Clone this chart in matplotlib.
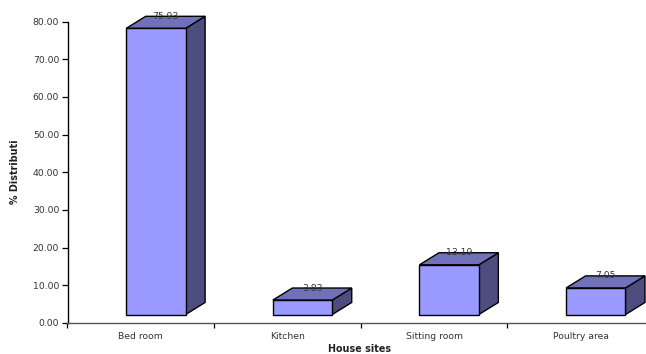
import matplotlib
matplotlib.use("Agg")
import matplotlib.pyplot as plt
from matplotlib.patches import Polygon

sites = ["Bed room", "Kitchen", "Sitting room", "Poultry area"]
percent = [75.93, 3.83, 13.19, 7.05]
y_ticks = [0, 10, 20, 30, 40, 50, 60, 70, 80]

W, H = 646, 354
plt.rcParams["font.family"] = ["DejaVu Sans"]

FRONT = "#9999ff"
TOP = "#7171b9"
SIDE = "#4d4d7f"
TEXT = "#333333"
FS = 6.7

fig = plt.figure(figsize=(W / 100, H / 100), dpi=100)
# axes run past the right edge, the last category is cut off
ax = fig.add_axes([67.5 / W, 1 - 323 / H, 586.5 / W, 301.5 / H])
ax.set_xlim(-0.5, 3.5)
ax.set_ylim(0, 80)

bar_w = 0.405
shift = 0.103    # front face sits right of the category centre
base = 2.25      # floor of the box above the axis
dx = 0.133       # depth of the box
dy = 3.2


def draw_box(x, val):
    x0 = x + shift - bar_w / 2
    x1 = x0 + bar_w
    y0 = base
    y1 = base + val
    ax.add_patch(Polygon([(x1, y0), (x1 + dx, y0 + dy), (x1 + dx, y1 + dy), (x1, y1)],
                         fc=SIDE, ec="black", lw=1.0, clip_on=False))
    ax.add_patch(Polygon([(x0, y1), (x1, y1), (x1 + dx, y1 + dy), (x0 + dx, y1 + dy)],
                         fc=TOP, ec="black", lw=1.0, clip_on=False))
    ax.bar(x + shift, val, bar_w, bottom=y0, color=FRONT, edgecolor="black", lw=1.0)
    ax.text(x + shift + dx / 2, y1 + dy, f"{val:.2f}", ha="center", va="center",
            fontsize=FS, color=TEXT)


for i, v in enumerate(percent):
    draw_box(i, v)

for s in ["top", "right"]:
    ax.spines[s].set_visible(False)
ax.spines["left"].set_linewidth(1.0)
ax.spines["bottom"].set_linewidth(1.0)
ax.spines["bottom"].set_color("#555555")

ax.set_yticks(y_ticks)
ax.set_yticklabels([f"{t:.2f}" for t in y_ticks], fontsize=FS, color=TEXT)
ax.tick_params(axis="y", length=4.5, width=0.9, pad=1.5)

# ticks mark the category boundaries, labels stay centred between them
ax.set_xticks([-0.5, 0.5, 1.5, 2.5, 3.5])
ax.set_xticklabels([])
ax.tick_params(axis="x", length=3.5, width=0.9)
for i, s in enumerate(sites):
    ax.annotate(s, (i, 0), xytext=(0, -9.5), textcoords="offset points", ha="center",
                va="center", fontsize=FS, color=TEXT, annotation_clip=False)

fig.text(360 / W, 1 - 349 / H, "House sites", ha="center", va="center",
         fontsize=6.9, fontweight="bold", color="#222222")
fig.text(15 / W, 1 - 172 / H, "% Distributi", ha="center", va="center", rotation=90,
         fontsize=6.9, fontweight="bold", color="#222222")

fig.savefig("out.png", dpi=100)
